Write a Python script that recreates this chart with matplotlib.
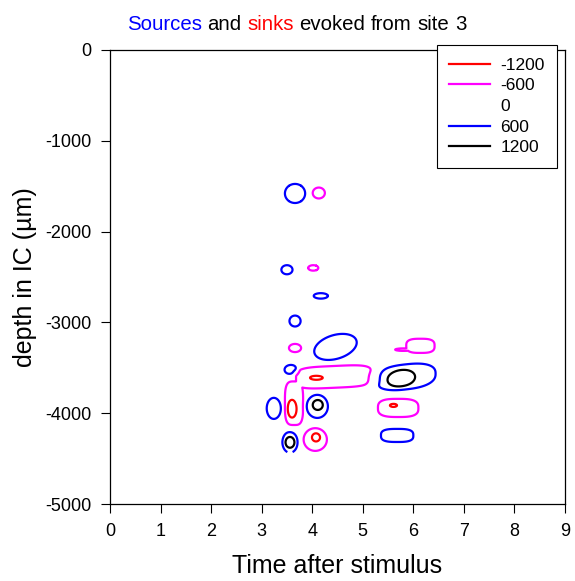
import numpy as np
import matplotlib
matplotlib.use("Agg")
import matplotlib.pyplot as plt
from matplotlib.lines import Line2D
from matplotlib.offsetbox import TextArea, HPacker, AnnotationBbox

plt.rcParams['font.family'] = ['Liberation Sans', 'DejaVu Sans']
plt.rcParams['axes.unicode_minus'] = False

# ---- data ----
# main source/sink regions: centre (ms, um), extent of the +/-600 contour, sign
blob_time  = [3.66, 4.13, 3.50, 4.02, 4.17, 3.66, 3.66, 4.46, 3.58,
              4.43, 3.64, 4.10, 3.24, 3.56, 4.06, 5.85, 6.14, 5.80,
              5.70, 5.68]
blob_depth = [-1580, -1575, -2420, -2400, -2708, -2985, -3282, -3270, -3523,
              -3600, -3890, -3925, -3947, -4320, -4290, -3600, -3258, -3300,
              -3942, -4245]
blob_rx    = [0.20, 0.12, 0.11, 0.10, 0.14, 0.11, 0.12, 0.42, 0.13,
              0.75, 0.18, 0.21, 0.14, 0.15, 0.23, 0.59, 0.28, 0.16,
              0.40, 0.32]
blob_ry    = [105, 60, 50, 30, 30, 60, 45, 135, 55,
              120, 240, 127, 116, 115, 125, 138, 78, 14,
              100, 72]
blob_amp   = [1000, -1000, 1000, -1000, 1000, 1000, -1000, 1000, 1000,
              -1000, -1000, 1000, 1000, 1000, -1000, 1000, -1000, -1000,
              -1000, 1000]
blob_slope = [0, 0, 0, 0, 0, 0, 0, 115, 0,
              25, 0, 0, 0, 0, 0, 60, 0, 0,
              0, 0]
blob_shape = [2, 2, 2, 2, 2, 2, 2, 2, 2,
              4, 3.5, 2, 2, 2, 2, 2.5, 3, 2,
              3, 3]

# inner peaks (+/-1200 contours): centre, half-width, amplitude
peak_time  = [4.11, 3.60, 4.08, 3.56, 4.075, 5.755, 5.607]
peak_depth = [-3909, -3953, -3610, -4321, -4266, -3617, -3914]
peak_rx    = [0.10, 0.09, 0.128, 0.09, 0.08, 0.28, 0.07]
peak_ry    = [55, 100, 22, 60, 45, 95, 17]
peak_amp   = [400, -400, -400, 400, -400, 400, -400]
peak_slope = [0, 0, 0, 0, 0, 60, 0]

levels = [-1200, -600, 600, 1200]
level_colors = ['#ff0000', '#ff00ff', '#0000ff', '#000000']
legend_labels = ['-1200', '-600', '0', '600', '1200']
legend_colors = ['#ff0000', '#ff00ff', '#ffffff', '#0000ff', '#000000']

x_ticks = list(range(0, 10))
y_ticks = [0, -1000, -2000, -3000, -4000, -5000]

t_min, t_max = 2.8, 7.0
d_min, d_max = -4428, -1300

# ---- build field ----
t = np.linspace(t_min, t_max, 841)
d = np.linspace(d_min, d_max, 783)
T, D = np.meshgrid(t, d)


def radius2(t0, d0, rx, ry, slope, n):
    dc = d0 + slope * (T - t0)
    u = np.abs((T - t0) / rx)
    v = np.abs((D - dc) / ry)
    return (u ** n + v ** n) ** (2.0 / n)


pos = np.zeros_like(T)
neg = np.zeros_like(T)
for bt, bd, rx, ry, a, sl, n in zip(blob_time, blob_depth, blob_rx, blob_ry,
                                    blob_amp, blob_slope, blob_shape):
    s = radius2(bt, bd, rx, ry, sl, n)
    f = a * np.exp(-np.log(abs(a) / 600.0) * np.minimum(s, 50) ** 3)
    if a > 0:
        pos = np.maximum(pos, f)
    else:
        neg = np.minimum(neg, f)
Z = pos + neg
for pt, pd, rx, ry, a, sl in zip(peak_time, peak_depth, peak_rx, peak_ry,
                                 peak_amp, peak_slope):
    s = radius2(pt, pd, rx, ry, sl, 2)
    Z += a * np.exp(-np.log(2.0) * np.minimum(s, 50) ** 3)

fig = plt.figure(figsize=(5.75, 5.81), dpi=100)
ax = fig.add_axes([110 / 575, 1 - 504 / 581, 455 / 575, 454 / 581])

ax.contour(T, D, Z, levels=levels, colors=level_colors, linewidths=1.6)

ax.set_xlim(0, 9)
ax.set_ylim(-5000, 0)
ax.set_xticks(x_ticks)
ax.set_yticks(y_ticks)
ax.tick_params(direction='out', length=6.5, width=0.8, labelsize=13)
ax.tick_params(axis='x', pad=7.5)
ax.tick_params(axis='y', pad=7)
for s in ax.spines.values():
    s.set_linewidth(0.9)

ax.set_xlabel('Time after stimulus', fontsize=18)
ax.xaxis.set_label_coords(0.5, -(566 - 504) / 454, transform=ax.transAxes)
ax.set_ylabel('depth in IC (µm)', fontsize=18)
ax.yaxis.set_label_coords(-(110 - 25) / 455, 0.5)
ax.xaxis.label.set_va('center')
ax.yaxis.label.set_va('center')

handles = [Line2D([], [], color=c, lw=1.6) for c in legend_colors]
leg = ax.legend(handles, legend_labels, loc='upper right',
                bbox_to_anchor=(557 / 575, 1 - 45 / 581), bbox_transform=fig.transFigure,
                borderaxespad=0, fontsize=12.5, frameon=True, fancybox=False,
                edgecolor='black', framealpha=1, handlelength=2.36,
                handletextpad=0.57, borderpad=0.72, labelspacing=0.32)
leg.get_frame().set_linewidth(0.8)

# multi-coloured title
parts = [('Sources', '#0000ff'), ('and', 'black'), ('sinks', '#ff0000'),
         ('evoked', 'black'), ('from', 'black'), ('site', 'black'), ('3', 'black')]
areas = [TextArea(s, textprops=dict(color=c, fontsize=14.7)) for s, c in parts]
box = HPacker(children=areas, align='baseline', pad=0, sep=4.1)
ab = AnnotationBbox(box, (296.5 / 575, 1 - 24 / 581), xycoords='figure fraction',
                    frameon=False, box_alignment=(0.5, 0.5))
fig.add_artist(ab)

fig.savefig('out.png', dpi=100)
